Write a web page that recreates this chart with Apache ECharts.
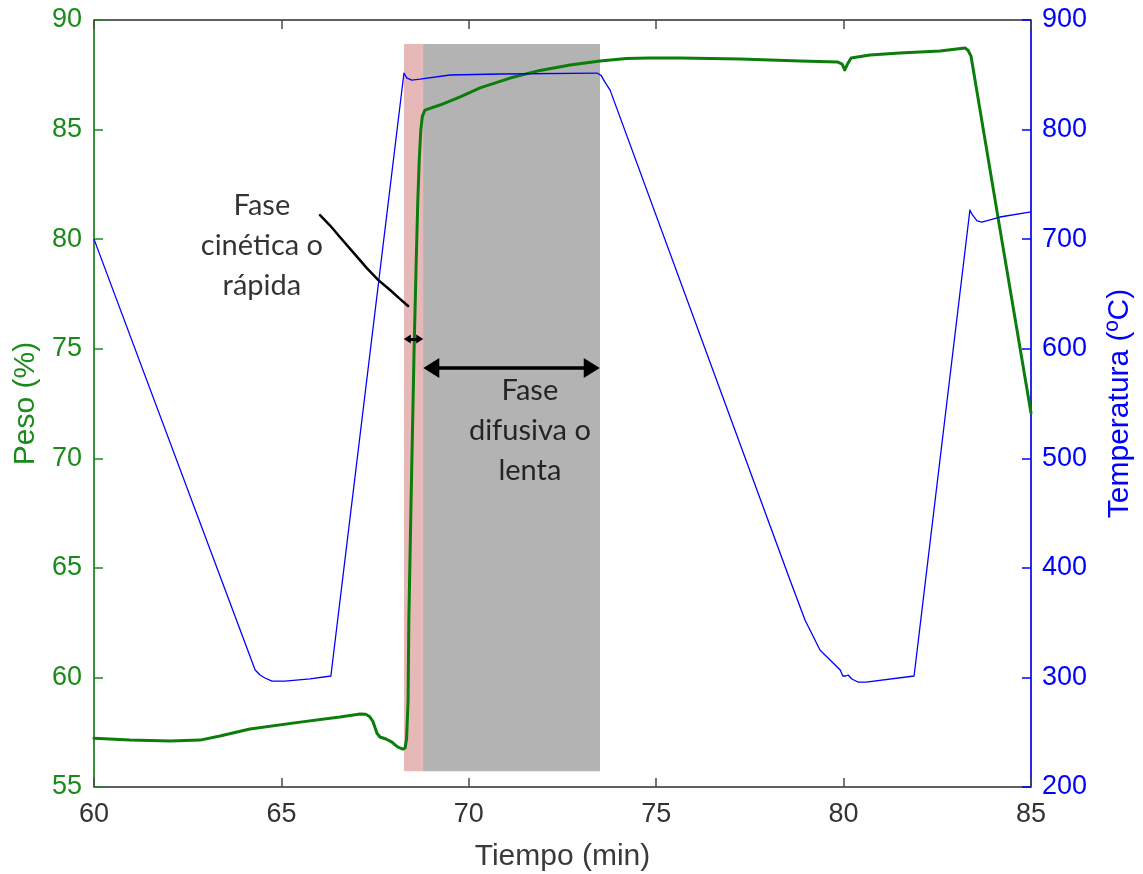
<!DOCTYPE html>
<html>
<head>
<meta charset="utf-8">
<script src="https://cdn.jsdelivr.net/npm/echarts@6/dist/echarts.min.js"></script>
<style>
  html, body { margin: 0; padding: 0; background: #fff; }
  #chart { width: 1143px; height: 874px; }
</style>
</head>
<body>
<div id="chart"></div>
<script>
// Peso (%) vs tiempo (min)
const weightData = [
  [60.00, 57.23], [60.96, 57.14], [62.03, 57.10], [62.83, 57.14], [63.36, 57.33],
  [64.16, 57.65], [65.50, 57.96], [66.56, 58.19], [67.10, 58.33], [67.25, 58.32],
  [67.35, 58.22], [67.44, 58.00], [67.50, 57.70], [67.55, 57.45], [67.63, 57.28],
  [67.79, 57.19], [67.95, 57.05], [68.05, 56.90], [68.11, 56.82], [68.24, 56.73],
  [68.30, 56.78], [68.34, 57.20], [68.38, 58.97], [68.40, 62.62], [68.46, 68.10],
  [68.54, 74.94], [68.60, 79.20], [68.64, 81.79], [68.68, 83.70], [68.72, 84.98],
  [68.76, 85.60], [68.83, 85.89], [69.23, 86.12], [69.77, 86.49], [70.30, 86.90],
  [71.10, 87.35], [71.90, 87.70], [72.70, 87.95], [73.50, 88.13], [74.20, 88.24],
  [74.80, 88.27], [75.64, 88.27], [77.24, 88.22], [78.84, 88.13], [79.85, 88.08],
  [79.96, 87.99], [80.03, 87.72], [80.08, 87.75], [80.12, 88.04], [80.20, 88.27],
  [80.70, 88.40], [81.50, 88.49], [82.57, 88.59], [83.24, 88.72], [83.32, 88.62],
  [83.40, 88.35], [84.17, 80.48], [85.00, 72.07]
];

// Temperatura (ºC) vs tiempo (min)
const tempData = [
  [60.00, 700.0], [64.30, 306.8], [64.43, 302.2], [64.56, 299.5], [64.75, 296.7],
  [65.10, 296.7], [65.76, 298.6], [66.32, 301.3], [68.27, 851.6], [68.35, 847.0],
  [68.48, 845.2], [68.70, 846.0], [69.50, 849.8], [70.83, 850.7], [73.42, 851.6],
  [73.53, 849.5], [73.62, 844.0], [73.77, 836.0], [78.57, 388.9], [78.97, 352.4],
  [79.37, 325.0], [79.53, 319.6], [79.91, 306.8], [79.98, 301.3], [80.06, 301.3],
  [80.12, 302.2], [80.22, 298.6], [80.38, 295.8], [80.60, 295.8], [81.88, 301.3],
  [83.37, 726.6], [83.42, 723.0], [83.56, 716.6], [83.69, 715.6], [84.17, 720.2],
  [85.00, 724.8]
];

// Phase limits (min) and vertical extent of the shading (%)
const fastPhase = [68.27, 68.78];
const slowPhase = [68.78, 73.50];
const shadeRange = [55.72, 88.9];

// Double arrows marking each phase: [x of left head, x of right head, peso]
const fastArrow = [68.36, 68.69, 75.44];
const slowArrow = [69.00, 73.28, 74.12];

// Callout line for the fast phase label (min, %)
const calloutLine = [
  [66.03, 81.10], [66.30, 80.62], [66.56, 80.10], [66.91, 79.41], [67.28, 78.68],
  [67.58, 78.14], [67.90, 77.68], [68.14, 77.31], [68.38, 76.95]
];

// Phase labels: [x, peso, text]
const phaseLabels = [
  [64.48, 79.71, 'Fase\ncinética o\nrápida'],
  [71.63, 71.27, 'Fase\ndifusiva o\nlenta']
];

const xTicks = { min: 60, max: 85, interval: 5 };
const weightTicks = { min: 55, max: 90, interval: 5 };
const tempTicks = { min: 200, max: 900, interval: 100 };

const GREEN_AXIS = '#1a8a1a';
const GREEN_LINE = '#0b7d0b';
const BLUE = '#0000ff';
const GREY_AXIS = '#4a4a4a';
const tickFont = { fontFamily: 'Liberation Sans, Arial, sans-serif', fontSize: 27 };
const nameFont = { fontFamily: 'Liberation Sans, Arial, sans-serif', fontSize: 30 };

const chart = echarts.init(document.getElementById('chart'), null, { renderer: 'canvas' });

chart.setOption({
  animation: false,
  backgroundColor: '#ffffff',
  grid: {
    left: 94, right: 112, top: 20, bottom: 87,
    outerBoundsMode: 'none', containLabel: false,
    show: true, borderColor: GREY_AXIS, borderWidth: 1, backgroundColor: 'transparent'
  },
  xAxis: [
    {
      type: 'value', position: 'bottom',
      min: xTicks.min, max: xTicks.max, interval: xTicks.interval,
      name: 'Tiempo (min)', nameLocation: 'middle', nameGap: 55,
      nameTextStyle: Object.assign({ color: '#3a3a3a' }, nameFont),
      axisLine: { show: true, lineStyle: { color: GREY_AXIS, width: 1.5 } },
      axisTick: { show: true, inside: true, length: 9, lineStyle: { color: GREY_AXIS, width: 1.5 } },
      axisLabel: Object.assign({ color: '#333333', margin: 14 }, tickFont),
      splitLine: { show: false }
    },
    {
      type: 'value', position: 'top',
      min: xTicks.min, max: xTicks.max, interval: xTicks.interval,
      axisLine: { show: true, lineStyle: { color: GREY_AXIS, width: 1.5 } },
      axisTick: { show: true, inside: true, length: 9, lineStyle: { color: GREY_AXIS, width: 1.5 } },
      axisLabel: { show: false },
      splitLine: { show: false }
    }
  ],
  yAxis: [
    {
      type: 'value', position: 'left',
      min: weightTicks.min, max: weightTicks.max, interval: weightTicks.interval,
      name: 'Peso (%)', nameLocation: 'middle', nameGap: 52,
      nameTextStyle: Object.assign({ color: GREEN_AXIS }, nameFont),
      axisLine: { show: true, lineStyle: { color: GREEN_AXIS, width: 1.5 } },
      axisTick: { show: true, inside: true, length: 9, lineStyle: { color: GREEN_AXIS, width: 1.5 } },
      axisLabel: Object.assign({ color: GREEN_AXIS, margin: 12 }, tickFont),
      splitLine: { show: false }
    },
    {
      type: 'value', position: 'right',
      min: tempTicks.min, max: tempTicks.max, interval: tempTicks.interval,
      name: 'Temperatura (ºC)', nameLocation: 'middle', nameGap: 74,
      nameTextStyle: Object.assign({ color: BLUE }, nameFont),
      axisLine: { show: true, lineStyle: { color: BLUE, width: 1.5 } },
      axisTick: { show: true, inside: true, length: 9, lineStyle: { color: BLUE, width: 1.5 } },
      axisLabel: Object.assign({ color: BLUE, margin: 11 }, tickFont),
      splitLine: { show: false }
    }
  ],
  series: [
    {
      // shaded phase bands
      name: 'fases', type: 'line', data: [], z: 1, silent: true,
      markArea: {
        silent: true,
        data: [
          [{ xAxis: fastPhase[0], yAxis: shadeRange[1], itemStyle: { color: '#e6b9b8' } },
           { xAxis: fastPhase[1], yAxis: shadeRange[0] }],
          [{ xAxis: slowPhase[0], yAxis: shadeRange[1], itemStyle: { color: '#b3b3b3' } },
           { xAxis: slowPhase[1], yAxis: shadeRange[0] }]
        ]
      }
    },
    {
      name: 'Peso', type: 'line', xAxisIndex: 0, yAxisIndex: 0, z: 3,
      data: weightData, showSymbol: false, smooth: false,
      lineStyle: { color: GREEN_LINE, width: 3, join: 'round', cap: 'round' }
    },
    {
      name: 'Temperatura', type: 'line', xAxisIndex: 0, yAxisIndex: 1, z: 4,
      data: tempData, showSymbol: false, smooth: false,
      lineStyle: { color: BLUE, width: 1.3, join: 'round' }
    },
    {
      // callout line
      name: 'callout', type: 'line', yAxisIndex: 0, z: 5, silent: true,
      data: calloutLine, showSymbol: false, smooth: false,
      lineStyle: { color: '#000000', width: 2.5, join: 'round', cap: 'round' }
    },
    {
      // fast phase arrow
      name: 'flechaRapida', type: 'line', data: [], z: 6, silent: true,
      markLine: {
        silent: true, symbol: ['triangle', 'triangle'], symbolSize: [9, 7],
        label: { show: false },
        lineStyle: { color: '#000000', width: 3, type: 'solid' },
        data: [[{ coord: [fastArrow[0], fastArrow[2]] }, { coord: [fastArrow[1], fastArrow[2]] }]]
      }
    },
    {
      // slow phase arrow
      name: 'flechaLenta', type: 'line', data: [], z: 6, silent: true,
      markLine: {
        silent: true, symbol: ['triangle', 'triangle'], symbolSize: [20, 16],
        label: { show: false },
        lineStyle: { color: '#000000', width: 3.5, type: 'solid' },
        data: [[{ coord: [slowArrow[0], slowArrow[2]] }, { coord: [slowArrow[1], slowArrow[2]] }]]
      }
    },
    {
      // phase labels
      name: 'etiquetas', type: 'scatter', yAxisIndex: 0, z: 7, silent: true,
      symbolSize: 0,
      data: phaseLabels.map(p => ({ value: [p[0], p[1]], text: p[2] })),
      label: {
        show: true, position: 'inside',
        formatter: p => p.data.text,
        color: '#000000', fontFamily: 'Lato, Open Sans, sans-serif', fontSize: 29,
        lineHeight: 40, align: 'center', verticalAlign: 'middle'
      }
    }
  ]
});
</script>
</body>
</html>
